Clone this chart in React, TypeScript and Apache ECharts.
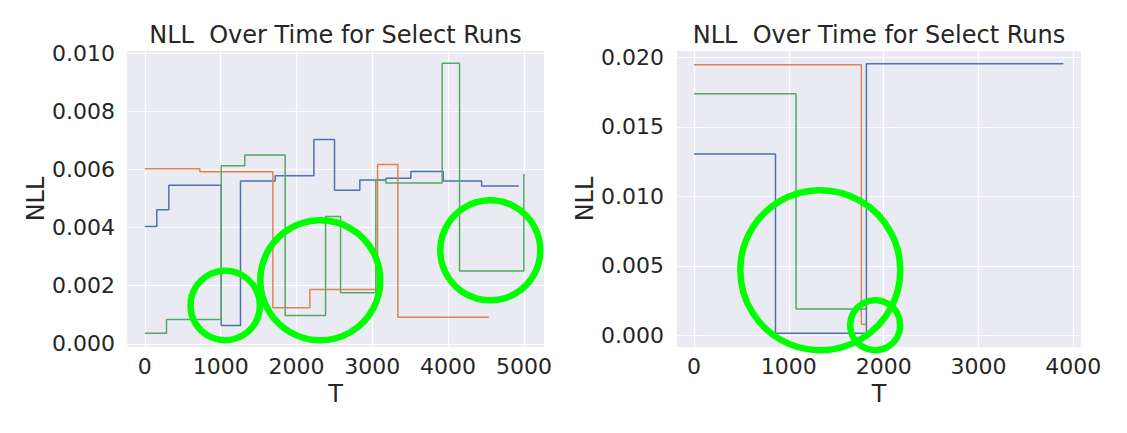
import React, { useEffect, useRef } from "react";
import * as echarts from "echarts";

// Left panel data
const leftBlueT = [0, 158, 317, 1007, 1262, 1720, 2230, 2502, 2836, 3179, 3509, 3936, 4442, 4934];
const leftBlueNLL = [0.00403, 0.00461, 0.00545, 0.00063, 0.0056, 0.00578, 0.00703, 0.00528, 0.00563, 0.00569, 0.00593, 0.0056, 0.00543, 0.00543];
const leftOrangeT = [0, 726, 1689, 2177, 3070, 3338, 4538];
const leftOrangeNLL = [0.00602, 0.00592, 0.00124, 0.00187, 0.00617, 0.00091, 0.00091];
const leftGreenT = [0, 286, 1007, 1319, 1851, 2384, 2582, 3047, 3179, 3922, 4151, 5000, 5015];
const leftGreenNLL = [0.00036, 0.00084, 0.00612, 0.00649, 0.00097, 0.00438, 0.00176, 0.00564, 0.00553, 0.00965, 0.0025, 0.00581, 0.00581];

// Right panel data
const rightBlueT = [0, 859, 1818, 3896];
const rightBlueNLL = [0.01304, 0.00014, 0.01954, 0.01954];
const rightOrangeT = [0, 1765, 1818];
const rightOrangeNLL = [0.01947, 0.00079, 0.00079];
const rightGreenT = [0, 1076, 1818];
const rightGreenNLL = [0.01738, 0.00189, 0.00189];

// Tick labels
const leftXTicks = [0, 1000, 2000, 3000, 4000, 5000];
const leftYTicks = [0, 0.002, 0.004, 0.006, 0.008, 0.01];
const rightXTicks = [0, 1000, 2000, 3000, 4000];
const rightYTicks = [0, 0.005, 0.01, 0.015, 0.02];

const TITLE = "NLL  Over Time for Select Runs";
const COLORS = ["#4C72B0", "#DD8452", "#55A868"];
const FONT = "DejaVu Sans";
const TEXT = "#262626";

const zip = (xs: number[], ys: number[]) => xs.map((x, i) => [x, ys[i]]);

export default function App() {
  const ref = useRef<HTMLDivElement>(null);
  useEffect(() => {
    if (!ref.current) return;
    const chart = echarts.init(ref.current, null, { renderer: "svg" });

    const xAxisBase = (gridIndex: number, min: number, max: number, ticks: number[]) => ({
      type: "value",
      gridIndex,
      min,
      max,
      name: "T",
      nameLocation: "middle",
      nameGap: 31,
      nameTextStyle: { fontSize: 24, color: TEXT, fontFamily: FONT },
      axisLine: { show: false },
      axisTick: { show: false, customValues: ticks },
      axisLabel: {
        customValues: ticks,
        fontSize: 22,
        color: TEXT,
        fontFamily: FONT,
        margin: 8,
        formatter: (v: number) => String(Math.round(v)),
      },
      splitLine: { show: true, lineStyle: { color: "#ffffff", width: 1.2 } },
    });
    const yAxisBase = (gridIndex: number, min: number, max: number, ticks: number[], gap: number, margin: number) => ({
      type: "value",
      gridIndex,
      min,
      max,
      name: "NLL",
      nameLocation: "middle",
      nameGap: gap,
      nameTextStyle: { fontSize: 24, color: TEXT, fontFamily: FONT },
      axisLine: { show: false },
      axisTick: { show: false, customValues: ticks },
      axisLabel: {
        customValues: ticks,
        fontSize: 22,
        color: TEXT,
        fontFamily: FONT,
        margin,
        formatter: (v: number) => v.toFixed(3),
      },
      splitLine: { show: true, lineStyle: { color: "#ffffff", width: 1.2 } },
    });

    const line = (data: number[][], color: string, idx: number) => ({
      type: "line",
      xAxisIndex: idx,
      yAxisIndex: idx,
      data,
      step: "end",
      showSymbol: false,
      symbol: "none",
      lineStyle: { color, width: 1.5 },
      silent: true,
    });

    const ring = (cx: number, cy: number, r: number) => ({
      type: "circle",
      shape: { cx, cy, r },
      style: { fill: "none", stroke: "#00FF00", lineWidth: 6.5 },
      z: 100,
    });

    chart.setOption({
      animation: false,
      backgroundColor: "#ffffff",
      title: [
        {
          text: TITLE,
          left: 335.5,
          top: 23,
          textAlign: "center",
          padding: 0,
          textStyle: { fontSize: 24, fontWeight: "normal", color: TEXT, fontFamily: FONT },
        },
        {
          text: TITLE,
          left: 879,
          top: 23,
          textAlign: "center",
          padding: 0,
          textStyle: { fontSize: 24, fontWeight: "normal", color: TEXT, fontFamily: FONT },
        },
      ],
      grid: [
        { left: 127, top: 51, width: 417, height: 296, show: true, backgroundColor: "#EAEAF2", borderWidth: 0 },
        { left: 677, top: 51, width: 404, height: 296, show: true, backgroundColor: "#EAEAF2", borderWidth: 0 },
      ],
      xAxis: [xAxisBase(0, -235, 5265, leftXTicks), xAxisBase(1, -180, 4082, rightXTicks)],
      yAxis: [
        yAxisBase(0, -0.00011, 0.01007, leftYTicks, 75, 12),
        yAxisBase(1, -0.00084, 0.02045, rightYTicks, 75, 13),
      ],
      series: [
        line(zip(leftBlueT, leftBlueNLL), COLORS[0], 0),
        line(zip(leftOrangeT, leftOrangeNLL), COLORS[1], 0),
        line(zip(leftGreenT, leftGreenNLL), COLORS[2], 0),
        line(zip(rightBlueT, rightBlueNLL), COLORS[0], 1),
        line(zip(rightOrangeT, rightOrangeNLL), COLORS[1], 1),
        line(zip(rightGreenT, rightGreenNLL), COLORS[2], 1),
      ],
      graphic: [
        ring(225.2, 305.5, 34.7),
        ring(320.3, 280.3, 60),
        ring(490.3, 250.3, 50),
        ring(820.3, 270.2, 80),
        ring(875.2, 325.2, 25),
      ],
    });
    return () => chart.dispose();
  }, []);
  return (
    <div
      ref={ref}
      style={{ position: "fixed", left: 0, top: 0, width: 1127, height: 433, background: "#fff" }}
    />
  );
}
